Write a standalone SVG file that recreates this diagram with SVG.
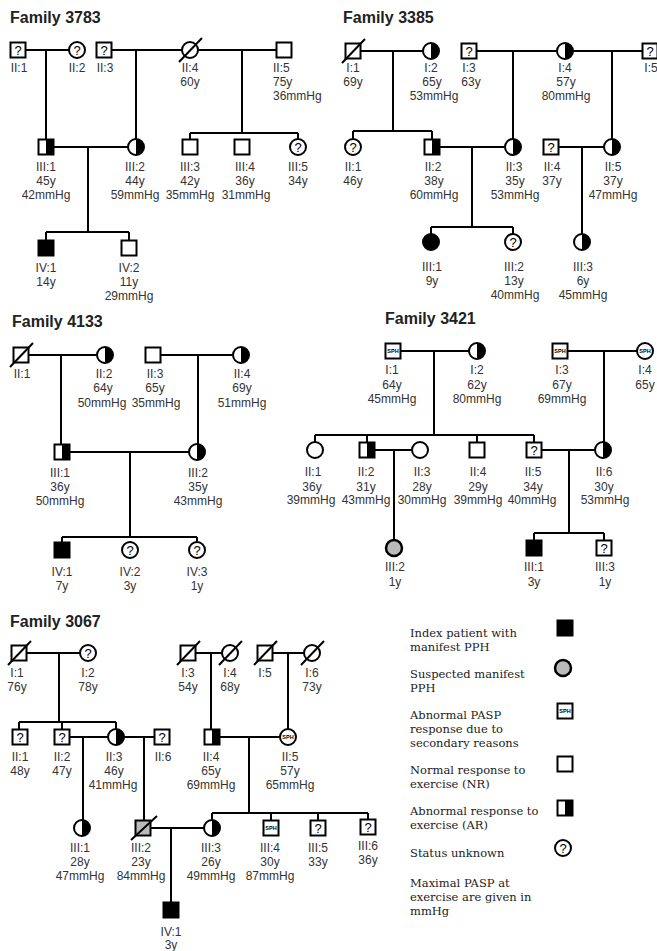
<svg xmlns="http://www.w3.org/2000/svg" xmlns:xlink="http://www.w3.org/1999/xlink" width="657" height="951" viewBox="0 0 657 951">
<style>
.ln{stroke:#000;stroke-width:2;fill:none}
.sym{stroke:#000;stroke-width:2;fill:#fff}
.ol{stroke:#000;stroke-width:2;fill:none}
.lb{font-family:"Liberation Sans",Arial,sans-serif;font-size:12px;fill:#333;text-anchor:middle}
.ls{text-anchor:start}
.q{font-family:"Liberation Sans",Arial,sans-serif;font-size:13px;fill:#000;text-anchor:middle}
.sph{font-family:"Liberation Sans",Arial,sans-serif;font-size:5.5px;font-weight:bold;fill:#000;text-anchor:middle}
.ttl{font-family:"Liberation Sans",Arial,sans-serif;font-weight:bold;font-size:16px;fill:#222}
.lg{font-family:"DejaVu Serif","Liberation Serif",serif;font-size:11.5px;fill:#222}
</style>
<defs>
<g id="sq"><rect x="-7.5" y="-7.5" width="15" height="15" class="sym"/></g>
<g id="ci"><circle r="8" class="sym"/></g>
<g id="sqA"><rect x="-7.5" y="-7.5" width="15" height="15" fill="#fff"/><rect x="0" y="-7.5" width="7.5" height="15" fill="#000"/><rect x="-7.5" y="-7.5" width="15" height="15" class="ol"/></g>
<g id="ciA"><circle r="8" fill="#fff"/><path d="M0,-8A8,8 0 0 1 0,8Z" fill="#000"/><circle r="8" class="ol"/></g>
<g id="sqF"><rect x="-7.5" y="-7.5" width="15" height="15" fill="#000" stroke="#000" stroke-width="2"/></g>
<g id="ciF"><circle r="8" fill="#000" stroke="#000" stroke-width="2"/></g>
<g id="ciG"><circle r="8" fill="#bbb" stroke="#000" stroke-width="2.5"/></g>
<g id="sqD"><rect x="-7.5" y="-7.5" width="15" height="15" class="sym"/><line x1="-11" y1="12" x2="12" y2="-12" class="ln"/></g>
<g id="ciD"><circle r="8" class="sym"/><line x1="-11" y1="12" x2="12" y2="-12" class="ln"/></g>
</defs>

<g id="titles">
<text class="ttl" x="10" y="23">Family 3783</text>
<text class="ttl" x="343" y="23">Family 3385</text>
<text class="ttl" x="12" y="327">Family 4133</text>
<text class="ttl" x="385" y="324">Family 3421</text>
<text class="ttl" x="10" y="627">Family 3067</text>
</g>

<g id="connectors">
<!-- 3783 -->
<path class="ln" d="M26,50H69M46,50V139M112,50H182M136,50V139M198,50H276M242,50V133M190,133H298M190,133V139M298,133V139"/>
<path class="ln" d="M54,147H128M88,147V232M46,232H129M46,232V240M129,232V240"/>
<!-- 3385 -->
<path class="ln" d="M361,51H423M393,51V131M353,131H432M353,131V139M432,131V139M477,51H557M513,51V139M573,51H642M612,51V139"/>
<path class="ln" d="M440,147H505M472,147V227M431,227H513M431,227V234M513,227V234M559,147H604M582,147V234"/>
<!-- 4133 -->
<path class="ln" d="M29,355H97M61,355V444M161,355H233M198,355V444"/>
<path class="ln" d="M70,452H189M130,452V537M62,537H197M62,537V542M197,537V542"/>
<!-- 3421 -->
<path class="ln" d="M401,351H469M434,351V435M315,435H534M315,435V442M367,435V442M477,435V442M534,435V442M568,351H637M604,351V442"/>
<path class="ln" d="M375,450H412M394,450V540M542,450H595M569,450V533M534,533H604M534,533V540M604,533V540"/>
<!-- 3067 -->
<path class="ln" d="M27,653H80M59,653V722M19,722H116M19,722V729M62,722V729M116,722V729M196,653H222M211,653V729M273,653H304M288,653V729"/>
<path class="ln" d="M70,737H108M83,737V820M124,737H154M144,737V820M220,737H280M249,737V813M212,813H368M212,813V820M271,813V820M318,813V820M368,813V819"/>
<path class="ln" d="M151,828H204M171,828V902"/>
</g>

<!-- Family 3783 -->
<g id="f3783-II1"><use href="#sq" x="18" y="50"/><text class="q" x="18" y="55">?</text><text class="lb" x="19" y="72">II:1</text></g>
<g id="f3783-II2"><use href="#ci" x="77" y="50"/><text class="q" x="77" y="55">?</text><text class="lb" x="77" y="72">II:2</text></g>
<g id="f3783-II3"><use href="#sq" x="104" y="50"/><text class="q" x="104" y="55">?</text><text class="lb" x="105" y="72">II:3</text></g>
<g id="f3783-II4"><use href="#ciD" x="190" y="50"/><text class="lb" x="190" y="72">II:4</text><text class="lb" x="190" y="86">60y</text></g>
<g id="f3783-II5"><use href="#sq" x="284" y="50"/><text class="lb ls" x="273" y="72">II:5</text><text class="lb ls" x="273" y="86">75y</text><text class="lb ls" x="273" y="100">36mmHg</text></g>
<g id="f3783-III1"><use href="#sqA" x="46" y="147"/><text class="lb" x="46" y="171">III:1</text><text class="lb" x="46" y="185">45y</text><text class="lb" x="46" y="199">42mmHg</text></g>
<g id="f3783-III2"><use href="#ciA" x="136" y="147"/><text class="lb" x="135" y="171">III:2</text><text class="lb" x="135" y="185">44y</text><text class="lb" x="135" y="199">59mmHg</text></g>
<g id="f3783-III3"><use href="#sq" x="190" y="147"/><text class="lb" x="190" y="171">III:3</text><text class="lb" x="190" y="185">42y</text><text class="lb" x="190" y="199">35mmHg</text></g>
<g id="f3783-III4"><use href="#sq" x="242" y="147"/><text class="lb" x="245" y="171">III:4</text><text class="lb" x="245" y="185">36y</text><text class="lb" x="246" y="199">31mmHg</text></g>
<g id="f3783-III5"><use href="#ci" x="298" y="147"/><text class="q" x="298" y="152">?</text><text class="lb" x="298" y="171">III:5</text><text class="lb" x="298" y="185">34y</text></g>
<g id="f3783-IV1"><use href="#sqF" x="46" y="248"/><text class="lb" x="46" y="272">IV:1</text><text class="lb" x="46" y="286">14y</text></g>
<g id="f3783-IV2"><use href="#sq" x="129" y="248"/><text class="lb" x="129" y="272">IV:2</text><text class="lb" x="129" y="286">11y</text><text class="lb" x="129" y="300">29mmHg</text></g>

<!-- Family 3385 -->
<g id="f3385-I1"><use href="#sqD" x="353" y="51"/><text class="lb" x="353" y="72">I:1</text><text class="lb" x="353" y="86">69y</text></g>
<g id="f3385-I2"><use href="#ciA" x="431" y="51"/><text class="lb" x="431" y="72">I:2</text><text class="lb" x="432" y="86">65y</text><text class="lb" x="434" y="100">53mmHg</text></g>
<g id="f3385-I3"><use href="#sq" x="469" y="51"/><text class="q" x="469" y="56">?</text><text class="lb" x="469" y="72">I:3</text><text class="lb" x="471" y="86">63y</text></g>
<g id="f3385-I4"><use href="#ciA" x="565" y="51"/><text class="lb" x="565" y="72">I:4</text><text class="lb" x="566" y="86">57y</text><text class="lb" x="566" y="100">80mmHg</text></g>
<g id="f3385-I5"><use href="#sq" x="650" y="51"/><text class="q" x="650" y="56">?</text><text class="lb" x="651" y="72">I:5</text></g>
<g id="f3385-II1"><use href="#ci" x="353" y="147"/><text class="q" x="353" y="152">?</text><text class="lb" x="353" y="171">II:1</text><text class="lb" x="353" y="185">46y</text></g>
<g id="f3385-II2"><use href="#sqA" x="432" y="147"/><text class="lb" x="433" y="171">II:2</text><text class="lb" x="434" y="185">38y</text><text class="lb" x="434" y="199">60mmHg</text></g>
<g id="f3385-II3"><use href="#ciA" x="513" y="147"/><text class="lb" x="514" y="171">II:3</text><text class="lb" x="515" y="185">35y</text><text class="lb" x="515" y="199">53mmHg</text></g>
<g id="f3385-II4"><use href="#sq" x="551" y="147"/><text class="q" x="551" y="152">?</text><text class="lb" x="552" y="171">II:4</text><text class="lb" x="552" y="185">37y</text></g>
<g id="f3385-II5"><use href="#ciA" x="612" y="147"/><text class="lb" x="613" y="171">II:5</text><text class="lb" x="613" y="185">37y</text><text class="lb" x="613" y="199">47mmHg</text></g>
<g id="f3385-III1"><use href="#ciF" x="431" y="242"/><text class="lb" x="432" y="271">III:1</text><text class="lb" x="432" y="285">9y</text></g>
<g id="f3385-III2"><use href="#ci" x="513" y="242"/><text class="q" x="513" y="247">?</text><text class="lb" x="514" y="271">III:2</text><text class="lb" x="514" y="285">13y</text><text class="lb" x="515" y="299">40mmHg</text></g>
<g id="f3385-III3"><use href="#ciA" x="582" y="242"/><text class="lb" x="583" y="271">III:3</text><text class="lb" x="583" y="285">6y</text><text class="lb" x="583" y="299">45mmHg</text></g>

<!-- Family 4133 -->
<g id="f4133-II1"><use href="#sqD" x="21" y="355"/><text class="lb" x="22" y="378">II:1</text></g>
<g id="f4133-II2"><use href="#ciA" x="105" y="355"/><text class="lb" x="104" y="378">II:2</text><text class="lb" x="103" y="392">64y</text><text class="lb" x="102" y="407">50mmHg</text></g>
<g id="f4133-II3"><use href="#sq" x="153" y="355"/><text class="lb" x="155" y="378">II:3</text><text class="lb" x="155" y="392">65y</text><text class="lb" x="156" y="407">35mmHg</text></g>
<g id="f4133-II4"><use href="#ciA" x="241" y="355"/><text class="lb" x="242" y="378">II:4</text><text class="lb" x="242" y="392">69y</text><text class="lb" x="242" y="407">51mmHg</text></g>
<g id="f4133-III1"><use href="#sqA" x="62" y="452"/><text class="lb" x="60" y="477">III:1</text><text class="lb" x="60" y="491">36y</text><text class="lb" x="60" y="505">50mmHg</text></g>
<g id="f4133-III2"><use href="#ciA" x="197" y="452"/><text class="lb" x="198" y="477">III:2</text><text class="lb" x="198" y="491">35y</text><text class="lb" x="198" y="505">43mmHg</text></g>
<g id="f4133-IV1"><use href="#sqF" x="62" y="550"/><text class="lb" x="62" y="576">IV:1</text><text class="lb" x="62" y="590">7y</text></g>
<g id="f4133-IV2"><use href="#ci" x="130" y="550"/><text class="q" x="130" y="555">?</text><text class="lb" x="130" y="576">IV:2</text><text class="lb" x="130" y="590">3y</text></g>
<g id="f4133-IV3"><use href="#ci" x="197" y="550"/><text class="q" x="197" y="555">?</text><text class="lb" x="197" y="576">IV:3</text><text class="lb" x="197" y="590">1y</text></g>

<!-- Family 3421 -->
<g id="f3421-I1"><use href="#sq" x="393" y="351"/><text class="sph" x="393" y="353">SPH</text><text class="lb" x="392" y="374">I:1</text><text class="lb" x="392" y="389">64y</text><text class="lb" x="392" y="403">45mmHg</text></g>
<g id="f3421-I2"><use href="#ciA" x="477" y="351"/><text class="lb" x="477" y="374">I:2</text><text class="lb" x="477" y="389">62y</text><text class="lb" x="477" y="403">80mmHg</text></g>
<g id="f3421-I3"><use href="#sq" x="560" y="351"/><text class="sph" x="560" y="353">SPH</text><text class="lb" x="562" y="374">I:3</text><text class="lb" x="562" y="389">67y</text><text class="lb" x="562" y="403">69mmHg</text></g>
<g id="f3421-I4"><use href="#ci" x="645" y="351"/><text class="sph" x="645" y="353">SPH</text><text class="lb" x="645" y="374">I:4</text><text class="lb" x="645" y="389">65y</text></g>
<g id="f3421-II1"><use href="#ci" x="315" y="450"/><text class="lb" x="313" y="476">II:1</text><text class="lb" x="312" y="491">36y</text><text class="lb" x="311" y="504">39mmHg</text></g>
<g id="f3421-II2"><use href="#sqA" x="367" y="450"/><text class="lb" x="366" y="476">II:2</text><text class="lb" x="366" y="491">31y</text><text class="lb" x="366" y="504">43mmHg</text></g>
<g id="f3421-II3"><use href="#ci" x="420" y="450"/><text class="lb" x="422" y="476">II:3</text><text class="lb" x="422" y="491">28y</text><text class="lb" x="422" y="504">30mmHg</text></g>
<g id="f3421-II4"><use href="#sq" x="477" y="450"/><text class="lb" x="478" y="476">II:4</text><text class="lb" x="478" y="491">29y</text><text class="lb" x="478" y="504">39mmHg</text></g>
<g id="f3421-II5"><use href="#sq" x="534" y="450"/><text class="q" x="534" y="455">?</text><text class="lb" x="533" y="476">II:5</text><text class="lb" x="533" y="491">34y</text><text class="lb" x="532" y="504">40mmHg</text></g>
<g id="f3421-II6"><use href="#ciA" x="603" y="450"/><text class="lb" x="604" y="476">II:6</text><text class="lb" x="604" y="491">30y</text><text class="lb" x="605" y="504">53mmHg</text></g>
<g id="f3421-III2"><use href="#ciG" x="394" y="548"/><text class="lb" x="395" y="571">III:2</text><text class="lb" x="395" y="586">1y</text></g>
<g id="f3421-III1"><use href="#sqF" x="534" y="548"/><text class="lb" x="534" y="571">III:1</text><text class="lb" x="534" y="586">3y</text></g>
<g id="f3421-III3"><use href="#sq" x="604" y="548"/><text class="q" x="604" y="553">?</text><text class="lb" x="605" y="571">III:3</text><text class="lb" x="605" y="586">1y</text></g>

<!-- Family 3067 -->
<g id="f3067-I1"><use href="#sqD" x="19" y="653"/><text class="lb" x="17" y="677">I:1</text><text class="lb" x="17" y="691">76y</text></g>
<g id="f3067-I2"><use href="#ci" x="88" y="653"/><text class="q" x="88" y="658">?</text><text class="lb" x="88" y="677">I:2</text><text class="lb" x="88" y="691">78y</text></g>
<g id="f3067-I3"><use href="#sqD" x="188" y="653"/><text class="lb" x="188" y="677">I:3</text><text class="lb" x="188" y="691">54y</text></g>
<g id="f3067-I4"><use href="#ciD" x="230" y="653"/><text class="lb" x="230" y="677">I:4</text><text class="lb" x="230" y="691">68y</text></g>
<g id="f3067-I5"><use href="#sqD" x="265" y="653"/><text class="lb" x="265" y="677">I:5</text></g>
<g id="f3067-I6"><use href="#ciD" x="312" y="653"/><text class="lb" x="312" y="677">I:6</text><text class="lb" x="312" y="691">73y</text></g>
<g id="f3067-II1"><use href="#sq" x="20" y="737"/><text class="q" x="20" y="742">?</text><text class="lb" x="20" y="761">II:1</text><text class="lb" x="20" y="775">48y</text></g>
<g id="f3067-II2"><use href="#sq" x="62" y="737"/><text class="q" x="62" y="742">?</text><text class="lb" x="62" y="761">II:2</text><text class="lb" x="62" y="775">47y</text></g>
<g id="f3067-II3"><use href="#ciA" x="116" y="737"/><text class="lb" x="114" y="761">II:3</text><text class="lb" x="114" y="775">46y</text><text class="lb" x="113" y="789">41mmHg</text></g>
<g id="f3067-II6"><use href="#sq" x="162" y="737"/><text class="q" x="162" y="742">?</text><text class="lb" x="163" y="761">II:6</text></g>
<g id="f3067-II4"><use href="#sqA" x="212" y="737"/><text class="lb" x="211" y="761">II:4</text><text class="lb" x="211" y="775">65y</text><text class="lb" x="211" y="789">69mmHg</text></g>
<g id="f3067-II5"><use href="#ci" x="288" y="737"/><text class="sph" x="288" y="739">SPH</text><text class="lb" x="290" y="761">II:5</text><text class="lb" x="290" y="775">57y</text><text class="lb" x="290" y="789">65mmHg</text></g>
<g id="f3067-III1"><use href="#ciA" x="82" y="828"/><text class="lb" x="80" y="852">III:1</text><text class="lb" x="80" y="866">28y</text><text class="lb" x="80" y="880">47mmHg</text></g>
<g id="f3067-III2"><rect x="135.5" y="820.5" width="15" height="15" fill="#bbb" stroke="#000" stroke-width="2"/><line x1="131" y1="840" x2="157" y2="816" class="ln"/><text class="lb" x="141" y="852">III:2</text><text class="lb" x="141" y="866">23y</text><text class="lb" x="141" y="880">84mmHg</text></g>
<g id="f3067-III3"><use href="#ciA" x="212" y="828"/><text class="lb" x="211" y="852">III:3</text><text class="lb" x="211" y="866">26y</text><text class="lb" x="211" y="880">49mmHg</text></g>
<g id="f3067-III4"><use href="#sq" x="271" y="828"/><text class="sph" x="271" y="830">SPH</text><text class="lb" x="270" y="852">III:4</text><text class="lb" x="270" y="866">30y</text><text class="lb" x="270" y="880">87mmHg</text></g>
<g id="f3067-III5"><use href="#sq" x="318" y="828"/><text class="q" x="318" y="833">?</text><text class="lb" x="318" y="852">III:5</text><text class="lb" x="318" y="866">33y</text></g>
<g id="f3067-III6"><use href="#sq" x="368" y="827"/><text class="q" x="368" y="832">?</text><text class="lb" x="368" y="850">III:6</text><text class="lb" x="368" y="864">36y</text></g>
<g id="f3067-IV1"><use href="#sqF" x="171" y="910"/><text class="lb" x="171" y="936">IV:1</text><text class="lb" x="171" y="949">3y</text></g>

<!-- Legend -->
<g id="legend">
<text class="lg" x="410" y="637">Index patient with</text>
<text class="lg" x="410" y="651">manifest PPH</text>
<use href="#sqF" x="565" y="628"/>
<text class="lg" x="410" y="678">Suspected manifest</text>
<text class="lg" x="410" y="692">PPH</text>
<use href="#ciG" x="563" y="668"/>
<text class="lg" x="410" y="719">Abnormal PASP</text>
<text class="lg" x="410" y="733">response due to</text>
<text class="lg" x="410" y="747">secondary reasons</text>
<use href="#sq" x="565" y="711"/><text class="sph" x="565" y="713">SPH</text>
<text class="lg" x="410" y="774">Normal response to</text>
<text class="lg" x="410" y="788">exercise (NR)</text>
<use href="#sq" x="565" y="764"/>
<text class="lg" x="410" y="815">Abnormal response to</text>
<text class="lg" x="410" y="829">exercise (AR)</text>
<use href="#sqA" x="565" y="808"/>
<text class="lg" x="410" y="857">Status unknown</text>
<use href="#ci" x="563" y="848"/><text class="q" x="563" y="853">?</text>
<text class="lg" x="410" y="887">Maximal PASP at</text>
<text class="lg" x="410" y="901">exercise are given in</text>
<text class="lg" x="410" y="915">mmHg</text>
</g>
</svg>
